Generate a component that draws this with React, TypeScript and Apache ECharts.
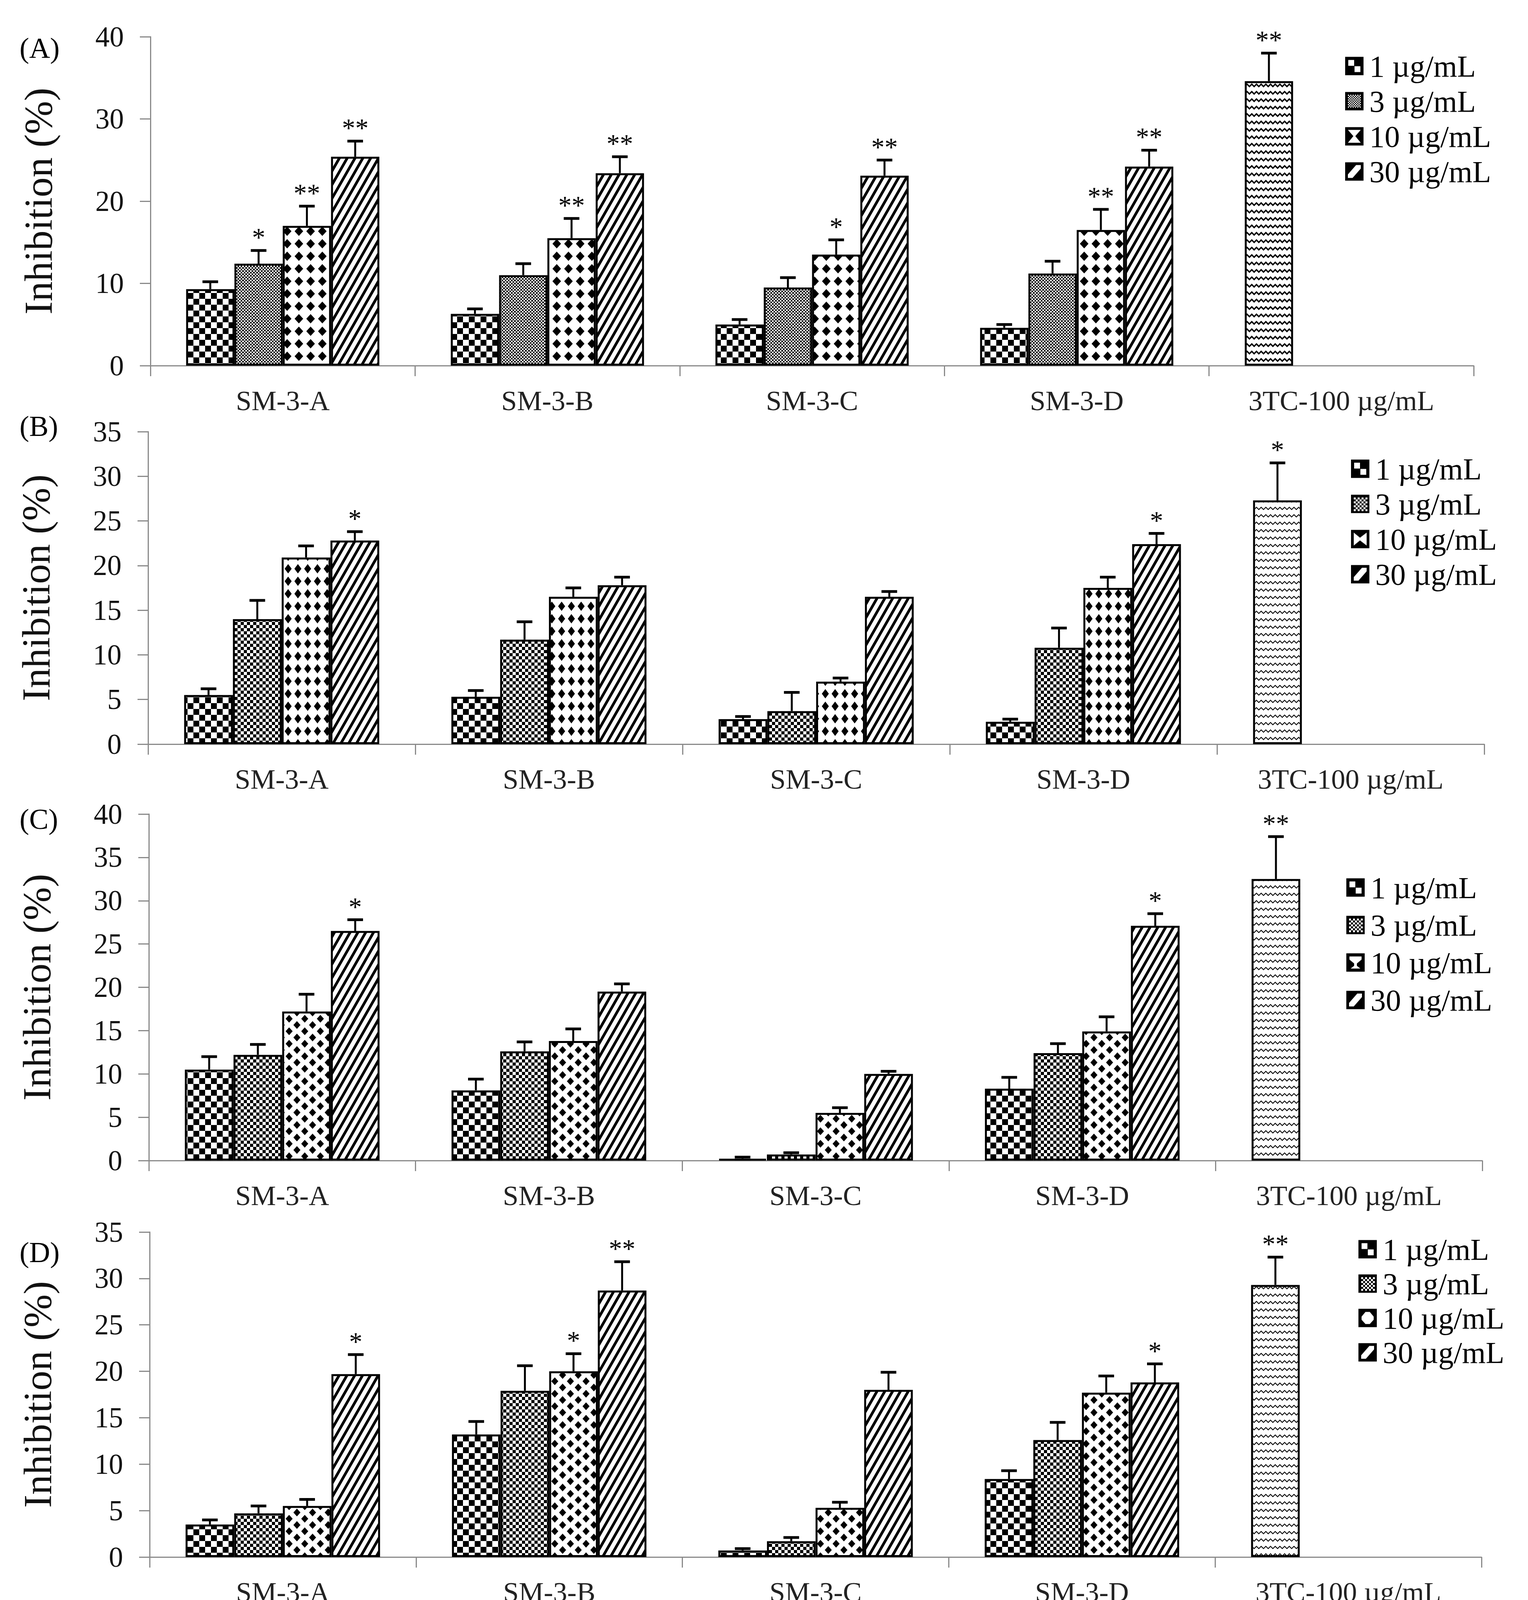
import React, { useEffect, useRef } from 'react';
import * as echarts from 'echarts';

const FONT = '"Liberation Serif", "Times New Roman", serif';

const CATEGORIES = ['SM-3-A', 'SM-3-B', 'SM-3-C', 'SM-3-D', '3TC-100 µg/mL'];
const DOSES = ['1 µg/mL', '3 µg/mL', '10 µg/mL', '30 µg/mL'];
const PANEL_LABELS = ['(A)', '(B)', '(C)', '(D)'];
const Y_TITLE = 'Inhibition (%)';

// rows = dose (1, 3, 10, 30 µg/mL); columns = SM-3-A, SM-3-B, SM-3-C, SM-3-D
const A_MEANS = [[9.3, 6.3, 5.0, 4.6], [12.4, 11.0, 9.5, 11.2], [17.0, 15.5, 13.5, 16.5], [25.4, 23.4, 23.1, 24.2]];
const A_ERR_TOP = [[10.2, 6.9, 5.6, 5.0], [14.0, 12.4, 10.7, 12.7], [19.4, 17.9, 15.3, 19.0], [27.3, 25.4, 25.0, 26.2]];
const A_SIG = [['', '', '', ''], ['*', '', '', ''], ['**', '**', '*', '**'], ['**', '**', '**', '**']];
const A_3TC = [34.6, 38.0];
const A_3TC_SIG = '**';
const A_Y_AXIS = [0, 40, 10];

const B_MEANS = [[5.5, 5.3, 2.8, 2.5], [14.0, 11.7, 3.7, 10.8], [20.9, 16.5, 7.0, 17.5], [22.8, 17.8, 16.5, 22.4]];
const B_ERR_TOP = [[6.2, 6.0, 3.1, 2.8], [16.1, 13.7, 5.8, 13.0], [22.2, 17.5, 7.4, 18.7], [23.8, 18.7, 17.1, 23.6]];
const B_SIG = [['', '', '', ''], ['', '', '', ''], ['', '', '', ''], ['*', '', '', '*']];
const B_3TC = [27.3, 31.5];
const B_3TC_SIG = '*';
const B_Y_AXIS = [0, 35, 5];

const C_MEANS = [[10.5, 8.1, 0.2, 8.3], [12.2, 12.6, 0.7, 12.4], [17.2, 13.8, 5.5, 14.9], [26.5, 19.5, 10.0, 27.1]];
const C_ERR_TOP = [[12.0, 9.4, 0.4, 9.6], [13.4, 13.7, 0.9, 13.5], [19.2, 15.2, 6.1, 16.6], [27.8, 20.4, 10.3, 28.5]];
const C_SIG = [['', '', '', ''], ['', '', '', ''], ['', '', '', ''], ['*', '', '', '*']];
const C_3TC = [32.5, 37.4];
const C_3TC_SIG = '**';
const C_Y_AXIS = [0, 40, 5];

const D_MEANS = [[3.5, 13.2, 0.7, 8.4], [4.7, 17.9, 1.7, 12.6], [5.5, 20.0, 5.3, 17.7], [19.7, 28.7, 18.0, 18.8]];
const D_ERR_TOP = [[4.0, 14.6, 0.9, 9.3], [5.5, 20.6, 2.1, 14.5], [6.2, 21.9, 5.9, 19.5], [21.8, 31.8, 19.9, 20.8]];
const D_SIG = [['', '', '', ''], ['', '', '', ''], ['', '*', '', ''], ['*', '**', '', '*']];
const D_3TC = [29.3, 32.3];
const D_3TC_SIG = '**';
const D_Y_AXIS = [0, 35, 5];

// ^bold^  ~italic~
const CAPTION_LINES = [
  '^A^, HBsAg-6 days; ^B^, HBeAg-6 days; ^C^, HBsAg-9 days and ^D^, HBeAg-9 days. SM-3-A, SM-3-B,',
  'SM-3-C, and SM-3-D reduced hepatitis B surface antigen (HBsAg) and hepatitis B e antigen',
  '(HBeAg) secretion in a dose-dependent manner ~in~ ~vitro~. HepG2.2.15 cells were cultured in the',
  'presence of SM-3 components at various concentrations (1, 3, 10, and 30 µg/mL) or in the presence',
  'of 100 µg/mL 3TC for 6 or 9 days. The secretion of HBsAg was significantly reduced after 6 d, and',
  'by 9 days, the level of inhibition was slightly increased (A and C). Comparing the 4 samples, A and',
  'D displayed more potential inhibition, and both had no significant difference. The experiments',
  'were performed in triplicate and the data are presented as mean ± SD. ** ~p~ < 0.01, * ~p~ < 0.05',
  'compared with the control group.',
];

const PANEL_DATA = [
  { means: A_MEANS, errs: A_ERR_TOP, sigs: A_SIG, tc: A_3TC, tcSig: A_3TC_SIG, y: A_Y_AXIS },
  { means: B_MEANS, errs: B_ERR_TOP, sigs: B_SIG, tc: B_3TC, tcSig: B_3TC_SIG, y: B_Y_AXIS },
  { means: C_MEANS, errs: C_ERR_TOP, sigs: C_SIG, tc: C_3TC, tcSig: C_3TC_SIG, y: C_Y_AXIS },
  { means: D_MEANS, errs: D_ERR_TOP, sigs: D_SIG, tc: D_3TC, tcSig: D_3TC_SIG, y: D_Y_AXIS },
];

const LAYOUT = [
  { grid: { left: 385, top: 94, width: 3387, height: 842 }, legendLeft: 3443, legendTop: 124, legendRow: 90, labelY: 123 },
  { grid: { left: 379, top: 1105, width: 3420, height: 800 }, legendLeft: 3458, legendTop: 1155, legendRow: 90, labelY: 1091 },
  { grid: { left: 381, top: 2084, width: 3413, height: 887 }, legendLeft: 3446, legendTop: 2224, legendRow: 96, labelY: 2097 },
  { grid: { left: 383, top: 3154, width: 3409, height: 832 }, legendLeft: 3477, legendTop: 3154, legendRow: 88, labelY: 3206 },
];

const CAT_GAP = 0.27;

function makeCanvas(w: number, h: number, bg = '#fff'): [HTMLCanvasElement, CanvasRenderingContext2D] {
  const c = document.createElement('canvas');
  c.width = w;
  c.height = h;
  const g = c.getContext('2d') as CanvasRenderingContext2D;
  g.fillStyle = bg;
  g.fillRect(0, 0, w, h);
  g.fillStyle = '#000';
  g.strokeStyle = '#000';
  return [c, g];
}

function checker(cell: number) {
  const [c, g] = makeCanvas(cell * 2, cell * 2);
  g.fillRect(0, 0, cell, cell);
  g.fillRect(cell, cell, cell, cell);
  return c;
}

function diamonds(w: number, h: number, hw: number, hh: number, stag: boolean) {
  const [c, g] = makeCanvas(w, h);
  const d = (cx: number, cy: number) => {
    g.beginPath();
    g.moveTo(cx, cy - hh);
    g.lineTo(cx + hw, cy);
    g.lineTo(cx, cy + hh);
    g.lineTo(cx - hw, cy);
    g.closePath();
    g.fill();
  };
  d(w / 2, h / 2);
  if (stag) {
    d(0, 0); d(w, 0); d(0, h); d(w, h);
  }
  return c;
}

function stripes(w: number, h: number, lw: number) {
  const [c, g] = makeCanvas(w, h);
  g.lineWidth = lw;
  for (const x0 of [-2 * w, -w, 0, w, 2 * w]) {
    g.beginPath();
    g.moveTo(x0 - w, 2 * h);
    g.lineTo(x0 + 2 * w, -h);
    g.stroke();
  }
  return c;
}

function zigzag(w: number, h: number, amp: number, lw: number) {
  const [c, g] = makeCanvas(w, h);
  g.lineWidth = lw;
  const y0 = (h - amp) / 2;
  g.beginPath();
  g.moveTo(-w / 2, y0 + amp);
  g.lineTo(0, y0);
  g.lineTo(w / 2, y0 + amp);
  g.lineTo(w, y0);
  g.lineTo(1.5 * w, y0 + amp);
  g.stroke();
  return c;
}

function pat(c: HTMLCanvasElement) {
  return { image: c, repeat: 'repeat', imageWidth: c.width, imageHeight: c.height } as any;
}

function icon(draw: (g: CanvasRenderingContext2D) => void) {
  const [c, g] = makeCanvas(47, 47, '#000');
  g.fillStyle = '#fff';
  draw(g);
  return 'image://' + c.toDataURL();
}

function poly(g: CanvasRenderingContext2D, pts: number[][], color: string) {
  g.fillStyle = color;
  g.beginPath();
  g.moveTo(pts[0][0], pts[0][1]);
  for (let i = 1; i < pts.length; i++) g.lineTo(pts[i][0], pts[i][1]);
  g.closePath();
  g.fill();
}

function buildIcons(panel: number) {
  const i1 = icon((g) => {
    g.fillRect(8, 8, 15, 15);
    g.fillRect(24, 24, 15, 15);
  });
  const i3 = icon((g) => {
    const cell = panel === 0 ? 3 : 5;
    for (let y = 7; y < 40; y += cell) {
      for (let x = 7; x < 40; x += cell) {
        if ((Math.round((x - 7) / cell) + Math.round((y - 7) / cell)) % 2 === 0) g.fillRect(x, y, cell, cell);
      }
    }
  });
  const i10 = icon((g) => {
    if (panel === 0) poly(g, [[7, 7], [40, 7], [26, 23], [40, 40], [7, 40], [21, 23]], '#fff');
    else if (panel === 1) poly(g, [[7, 7], [23, 20], [40, 7], [40, 40], [23, 27], [7, 40]], '#fff');
    else if (panel === 2) poly(g, [[8, 8], [39, 8], [39, 16], [27, 26], [27, 32], [36, 39], [11, 39], [20, 32], [20, 26], [8, 16]], '#fff');
    else poly(g, [[18, 8], [29, 8], [39, 20], [39, 28], [29, 39], [18, 39], [8, 28], [8, 20]], '#fff');
  });
  const i30 = icon((g) => {
    g.fillRect(7, 7, 33, 33);
    poly(g, [[7, 7], [28, 7], [7, 31]], '#000');
    poly(g, [[40, 16], [40, 40], [19, 40]], '#000');
  });
  return [i1, i3, i10, i30];
}

function buildPatterns() {
  const thick = zigzag(12, 19, 6, 3.5);
  const thin = zigzag(12, 19, 6, 2.2);
  return [
    { bars: [checker(15), checker(4), diamonds(30, 32, 11, 12, false), stripes(20, 35, 7)], tc: thick },
    { bars: [checker(15), checker(8), diamonds(25, 32, 9, 12, false), stripes(20, 35, 7)], tc: thin },
    { bars: [checker(15), checker(8), diamonds(40, 32, 9, 10, true), stripes(20, 35, 7)], tc: thin },
    { bars: [checker(15), checker(8), diamonds(40, 32, 9, 10, true), stripes(20, 35, 7)], tc: thin },
  ];
}

type Seg = { t: string; b: boolean; i: boolean };
function parseWord(w: string): Seg[] {
  const out: Seg[] = [];
  const re = /\^([^^]+)\^|~([^~]+)~|([^^~]+)/g;
  let m: RegExpExecArray | null;
  while ((m = re.exec(w))) {
    if (m[1]) out.push({ t: m[1], b: true, i: false });
    else if (m[2]) out.push({ t: m[2], b: false, i: true });
    else out.push({ t: m[3], b: false, i: false });
  }
  return out;
}

function buildCaption() {
  const fs = 92;
  const x0 = 116;
  const x1 = 3777;
  const y0 = 4219;
  const dy = 124;
  const ctx = document.createElement('canvas').getContext('2d') as CanvasRenderingContext2D;
  const measure = (s: Seg) => {
    ctx.font = `${s.i ? 'italic ' : ''}${s.b ? 'bold ' : ''}${fs}px "Liberation Serif"`;
    return ctx.measureText(s.t).width;
  };
  const els: any[] = [];
  CAPTION_LINES.forEach((line, li) => {
    const words = line.split(' ').map(parseWord);
    const widths = words.map((ws) => ws.reduce((a, s) => a + measure(s), 0));
    const total = widths.reduce((a, b) => a + b, 0);
    const last = li === CAPTION_LINES.length - 1;
    const gap = last ? measure({ t: ' ', b: false, i: false }) : (x1 - x0 - total) / (words.length - 1);
    const y = y0 + li * dy - 0.3375 * fs;
    let x = x0;
    words.forEach((ws, wi) => {
      let sx = x;
      ws.forEach((s) => {
        els.push({
          type: 'text',
          x: sx,
          y,
          silent: true,
          style: {
            text: s.t,
            fontSize: fs,
            fontFamily: FONT,
            fontWeight: s.b ? 'bold' : 'normal',
            fontStyle: s.i ? 'italic' : 'normal',
            fill: '#000',
            align: 'left',
            textAlign: 'left',
            verticalAlign: 'middle',
            textVerticalAlign: 'middle',
          },
        });
        sx += measure(s);
      });
      x += widths[wi] + gap;
    });
  });
  return els;
}

function buildOption() {
  const patterns = buildPatterns();
  const option: any = {
    animation: false,
    backgroundColor: '#fff',
    grid: [],
    xAxis: [],
    yAxis: [],
    legend: [],
    series: [],
    graphic: [],
  };
  const axisColor = '#8a8a8a';
  PANEL_DATA.forEach((p, i) => {
    const L = LAYOUT[i];
    option.grid.push({ ...L.grid, containLabel: false });
    option.xAxis.push({
      type: 'category',
      gridIndex: i,
      data: CATEGORIES,
      axisLine: { show: true, lineStyle: { color: axisColor, width: 3 } },
      axisTick: { show: true, length: 27, lineStyle: { color: axisColor, width: 3 } },
      axisLabel: { fontSize: 72, fontFamily: FONT, color: '#222', margin: 54, interval: 0 },
      splitLine: { show: false },
    });
    option.yAxis.push({
      type: 'value',
      gridIndex: i,
      min: p.y[0],
      max: p.y[1],
      interval: p.y[2],
      axisLine: { show: true, lineStyle: { color: axisColor, width: 3 } },
      axisTick: { show: true, length: 27, lineStyle: { color: axisColor, width: 3 } },
      splitLine: { show: false },
      axisLabel: { fontSize: 73, fontFamily: FONT, color: '#111', margin: 68 },
      name: Y_TITLE,
      nameLocation: 'middle',
      nameGap: 236,
      nameTextStyle: { fontSize: 102, fontFamily: FONT, color: '#111' },
    });
    const icons = buildIcons(i);
    option.legend.push({
      orient: 'vertical',
      left: L.legendLeft,
      top: L.legendTop,
      padding: 0,
      itemGap: 0,
      itemWidth: 47,
      itemHeight: 47,
      selectedMode: false,
      textStyle: { fontSize: 78, fontFamily: FONT, color: '#000', lineHeight: L.legendRow, padding: [0, 0, 0, 10] },
      data: DOSES.map((d, k) => ({ name: d, icon: icons[k] })),
    });
    const ebars: any[] = [];
    for (let k = 0; k < 4; k++) {
      const data: any[] = p.means[k].map((v) => v);
      if (k === 0) {
        data.push({ value: p.tc[0], itemStyle: { color: pat(patterns[i].tc), borderColor: '#000', borderWidth: 5 } });
      } else {
        data.push('-');
      }
      option.series.push({
        type: 'bar',
        name: DOSES[k],
        xAxisIndex: i,
        yAxisIndex: i,
        barGap: '0%',
        barCategoryGap: CAT_GAP * 100 + '%',
        silent: true,
        data,
        itemStyle: { color: pat(patterns[i].bars[k]), borderColor: '#000', borderWidth: 5 },
        emphasis: { disabled: true },
      });
      p.means[k].forEach((m, j) => {
        ebars.push({ cat: j, k, mean: m, top: p.errs[k][j], sig: p.sigs[k][j] });
      });
    }
    ebars.push({ cat: 4, k: 0, mean: p.tc[0], top: p.tc[1], sig: p.tcSig });
    option.series.push({
      type: 'custom',
      xAxisIndex: i,
      yAxisIndex: i,
      silent: true,
      clip: false,
      z: 5,
      data: ebars.map((d) => [d.cat, d.top, d.mean]),
      encode: { x: 0, y: 1 },
      renderItem: (params: any, api: any) => {
        const d = ebars[params.dataIndex];
        const band = api.size([1, 0])[0];
        const groupW = band * (1 - CAT_GAP);
        const bw = groupW / 4;
        const c0 = api.coord([d.cat, d.mean]);
        const c1 = api.coord([d.cat, d.top]);
        const x = c0[0] - groupW / 2 + (d.k + 0.5) * bw;
        const children: any[] = [
          { type: 'line', shape: { x1: x, y1: c0[1], x2: x, y2: c1[1] }, style: { stroke: '#000', lineWidth: 5 } },
          { type: 'line', shape: { x1: x - 20, y1: c1[1], x2: x + 20, y2: c1[1] }, style: { stroke: '#000', lineWidth: 7 } },
        ];
        if (d.sig) {
          children.push({
            type: 'text',
            x,
            y: c1[1],
            style: {
              text: d.sig,
              fontSize: 68,
              fontFamily: FONT,
              fill: '#000',
              align: 'center',
              textAlign: 'center',
              verticalAlign: 'bottom',
              textVerticalAlign: 'bottom',
            },
          });
        }
        return { type: 'group', children };
      },
    });
    option.graphic.push({
      type: 'text',
      x: 50,
      y: L.labelY,
      silent: true,
      style: {
        text: PANEL_LABELS[i],
        fontSize: 74,
        fontFamily: FONT,
        fill: '#000',
        align: 'left',
        textAlign: 'left',
        verticalAlign: 'middle',
        textVerticalAlign: 'middle',
      },
    });
  });
  option.graphic.push(...buildCaption());
  return option;
}

export default function App() {
  const ref = useRef<HTMLDivElement>(null);
  useEffect(() => {
    document.body.style.margin = '0';
    if (!ref.current) return;
    const chart = echarts.init(ref.current, null, { renderer: 'svg' });
    chart.setOption(buildOption());
    return () => chart.dispose();
  }, []);
  return <div ref={ref} style={{ display: 'block', width: 3911, height: 5285, background: '#fff', margin: 0 }} />;
}
